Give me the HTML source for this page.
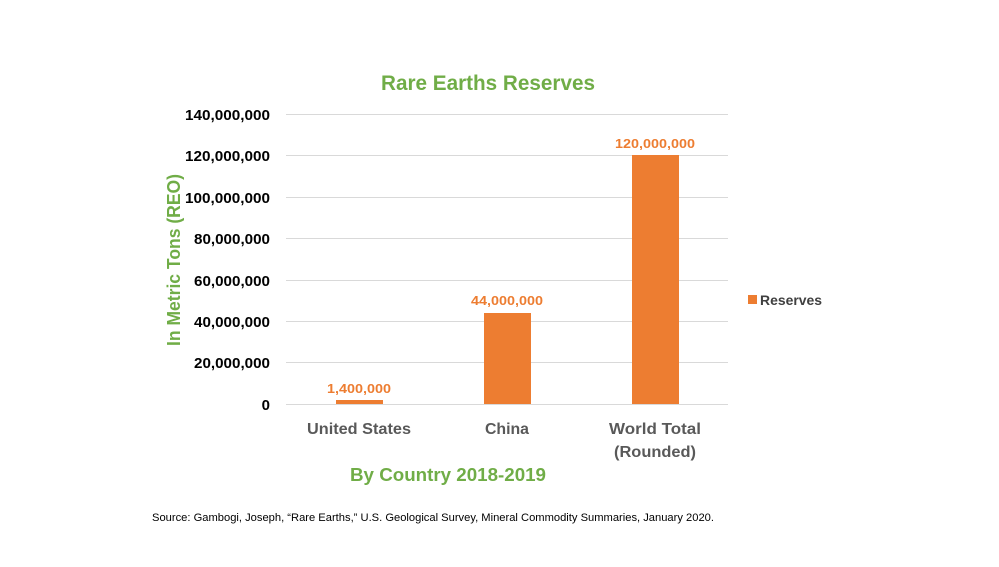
<!DOCTYPE html>
<html><head><style>
body{margin:0;background:#fff;}
svg text{font-family:"Liberation Sans",Arial,sans-serif;font-weight:bold;}
</style></head><body>
<svg width="999" height="562" xmlns="http://www.w3.org/2000/svg">
<rect width="999" height="562" fill="#fff"/>
<text x="488" y="90" font-size="21" fill="#70ad47" text-anchor="middle" textLength="214" lengthAdjust="spacingAndGlyphs">Rare Earths Reserves</text>
<g stroke="#d9d9d9" stroke-width="1">
<line x1="286" x2="728" y1="114.5" y2="114.5"/>
<line x1="286" x2="728" y1="155.5" y2="155.5"/>
<line x1="286" x2="728" y1="197.5" y2="197.5"/>
<line x1="286" x2="728" y1="238.5" y2="238.5"/>
<line x1="286" x2="728" y1="280.5" y2="280.5"/>
<line x1="286" x2="728" y1="321.5" y2="321.5"/>
<line x1="286" x2="728" y1="362.5" y2="362.5"/>
<line x1="286" x2="728" y1="404.5" y2="404.5"/>
</g>
<g font-size="15" fill="#000" text-anchor="end">
<text x="270" y="120" textLength="85" lengthAdjust="spacingAndGlyphs">140,000,000</text>
<text x="270" y="161" textLength="85" lengthAdjust="spacingAndGlyphs">120,000,000</text>
<text x="270" y="203" textLength="85" lengthAdjust="spacingAndGlyphs">100,000,000</text>
<text x="270" y="244" textLength="76" lengthAdjust="spacingAndGlyphs">80,000,000</text>
<text x="270" y="286" textLength="76" lengthAdjust="spacingAndGlyphs">60,000,000</text>
<text x="270" y="327" textLength="76" lengthAdjust="spacingAndGlyphs">40,000,000</text>
<text x="270" y="368" textLength="76" lengthAdjust="spacingAndGlyphs">20,000,000</text>
<text x="270" y="410">0</text>
</g>
<g fill="#ed7d31">
<rect x="336" y="400" width="47" height="4"/>
<rect x="484" y="313" width="47" height="91"/>
<rect x="632" y="155" width="47" height="249"/>
<rect x="748" y="295" width="9" height="9"/>
</g>
<g font-size="13" fill="#ed7d31" text-anchor="middle">
<text x="359" y="393" textLength="64" lengthAdjust="spacingAndGlyphs">1,400,000</text>
<text x="507" y="305" textLength="72" lengthAdjust="spacingAndGlyphs">44,000,000</text>
<text x="655" y="148" textLength="80" lengthAdjust="spacingAndGlyphs">120,000,000</text>
</g>
<text x="760" y="305" font-size="14" fill="#404040" textLength="62" lengthAdjust="spacingAndGlyphs">Reserves</text>
<g font-size="16" fill="#595959" text-anchor="middle">
<text x="359" y="434" textLength="104" lengthAdjust="spacingAndGlyphs">United States</text>
<text x="507" y="434" textLength="44" lengthAdjust="spacingAndGlyphs">China</text>
<text x="655" y="434" textLength="92" lengthAdjust="spacingAndGlyphs">World Total</text>
<text x="655" y="457" textLength="82" lengthAdjust="spacingAndGlyphs">(Rounded)</text>
</g>
<text x="448" y="481" font-size="18" fill="#70ad47" text-anchor="middle" textLength="196" lengthAdjust="spacingAndGlyphs">By Country  2018-2019</text>
<text transform="translate(180,260) rotate(-90)" font-size="18" fill="#70ad47" text-anchor="middle" textLength="172" lengthAdjust="spacingAndGlyphs">In Metric Tons (REO)</text>
<text x="152" y="521" font-size="11" font-weight="normal" style="font-weight:normal" fill="#000" textLength="562" lengthAdjust="spacingAndGlyphs">Source: Gambogi, Joseph, “Rare Earths,” U.S. Geological Survey, Mineral Commodity  Summaries, January 2020.</text>
</svg>
</body></html>
